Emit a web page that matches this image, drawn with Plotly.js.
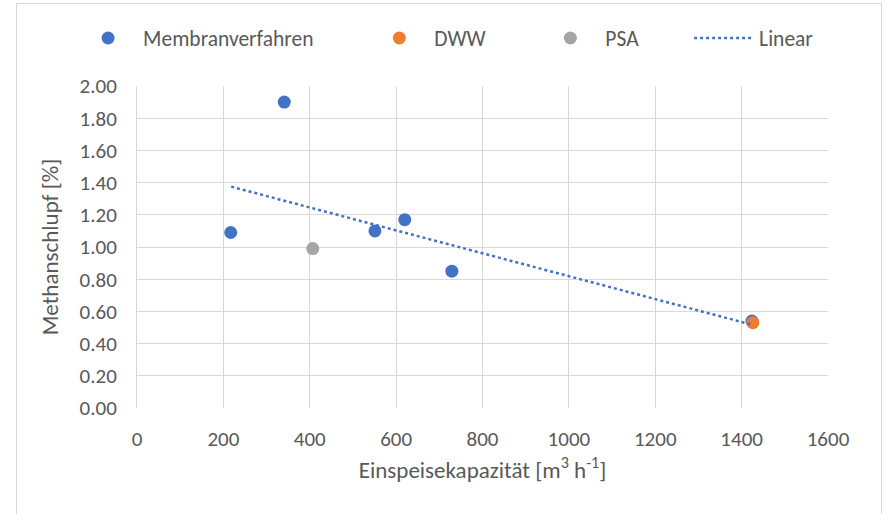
<!DOCTYPE html>
<html>
<head>
<meta charset="utf-8">
<script src="https://cdn.plot.ly/plotly-3.0.1.min.js"></script>
<style>
html,body{margin:0;padding:0;background:#fff;}
#frame{position:absolute;left:16px;top:3px;width:866px;height:520px;border:1px solid #D9D9D9;box-sizing:border-box;}
#chart{position:absolute;left:0;top:0;width:884px;height:514px;}
</style>
</head>
<body>
<div id="frame"></div>
<div id="chart"></div>
<script>
// Data
const membranX = [217, 341, 551, 620, 729, 1424];
const membranY = [1.09, 1.90, 1.10, 1.17, 0.85, 0.54];
const dwwX = [1426];
const dwwY = [0.53];
const psaX = [407];
const psaY = [0.99];
const trendX = [218, 1420];
const trendY = [1.375, 0.52];
const xTicks = [0, 200, 400, 600, 800, 1000, 1200, 1400, 1600];
const yTicks = [0, 0.2, 0.4, 0.6, 0.8, 1.0, 1.2, 1.4, 1.6, 1.8, 2.0];

const font = "Carlito, Calibri, 'Open Sans', sans-serif";
const txt = '#595959';

const traces = [
  {x: membranX, y: membranY, type: 'scatter', mode: 'markers', name: 'Membranverfahren',
   marker: {color: '#4472C4', size: 13}, legend: 'legend'},
  {x: dwwX, y: dwwY, type: 'scatter', mode: 'markers', name: 'DWW',
   marker: {color: '#ED7D31', size: 13}, legend: 'legend2'},
  {x: psaX, y: psaY, type: 'scatter', mode: 'markers', name: 'PSA',
   marker: {color: '#A5A5A5', size: 13}, legend: 'legend3'},
  {x: trendX, y: trendY, type: 'scatter', mode: 'lines', name: 'Linear',
   line: {color: '#4472C4', width: 2.5, dash: 'dot'}, legend: 'legend4'}
];

function leg(x) {
  return {orientation: 'h', x: x, xanchor: 'left', y: 1.149, yanchor: 'middle',
    yref: 'paper', xref: 'paper', font: {size: 21.5, color: txt}, itemwidth: 60,
    bgcolor: 'rgba(0,0,0,0)'};
}

const layout = {
  width: 884, height: 514,
  margin: {l: 137, r: 56, t: 86, b: 106},
  paper_bgcolor: 'rgba(0,0,0,0)', plot_bgcolor: '#fff',
  font: {family: font, color: txt, size: 20},
  showlegend: true,
  legend: leg(-0.0925),
  legend2: leg(0.329),
  legend3: leg(0.5765),
  legend4: leg(0.799),
  xaxis: {range: [0, 1600], tickvals: xTicks, ticktext: xTicks.map(String),
    showgrid: true, gridcolor: '#D9D9D9', gridwidth: 1, zeroline: false,
    showline: false, ticks: 'outside', ticklen: 12, tickcolor: 'rgba(0,0,0,0)',
    tickfont: {size: 21, color: txt},
    title: {text: 'Einspeisekapazität [m<sup>3</sup> h<sup>-1</sup>]', font: {size: 23, color: txt}, standoff: 10}},
  yaxis: {range: [0, 2.0], tickvals: yTicks, ticktext: yTicks.map(v => v.toFixed(2)),
    showgrid: true, gridcolor: '#D9D9D9', gridwidth: 1, zeroline: false,
    showline: true, linecolor: '#D9D9D9', linewidth: 1, ticks: 'outside', ticklen: 15,
    tickcolor: 'rgba(0,0,0,0)',
    tickfont: {size: 21, color: txt},
    title: {text: 'Methanschlupf [%]', font: {size: 23, color: txt}, standoff: 14}}
};
Plotly.newPlot('chart', traces, layout, {staticPlot: true, displayModeBar: false});
</script>
</body>
</html>
